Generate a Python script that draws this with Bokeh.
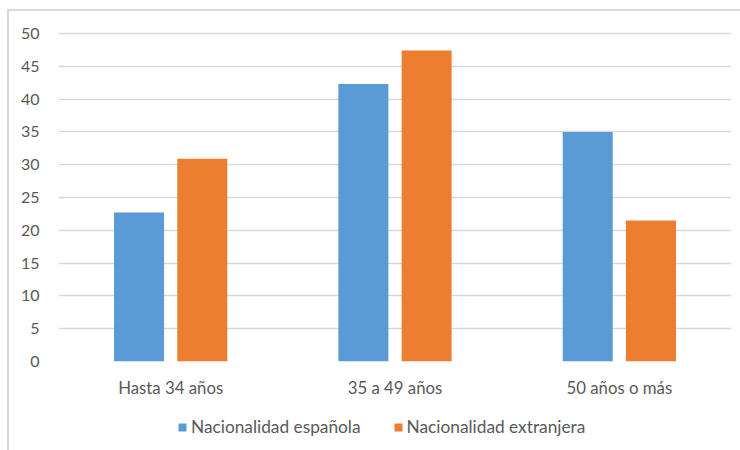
from bokeh.plotting import figure
from bokeh.layouts import column
from bokeh.models import Range1d, Legend, LegendItem, FixedTicker
from bokeh.transform import dodge
from bokeh.models import ColumnDataSource
from bokeh.embed import file_html
from bokeh.resources import INLINE

categories = ["Hasta 34 años", "35 a 49 años", "50 años o más"]
espanola = [22.7, 42.3, 35.0]
extranjera = [30.9, 47.4, 21.5]
series_names = ["Nacionalidad española", "Nacionalidad extranjera"]
y_ticks = [0, 5, 10, 15, 20, 25, 30, 35, 40, 45, 50]

BLUE = "#5B9BD5"
ORANGE = "#ED7D31"
TEXT = "#595959"
GRID = "#D9D9D9"
FONT = "Lato"

src = ColumnDataSource(dict(cat=categories, esp=espanola, ext=extranjera))

p = figure(x_range=categories, y_range=Range1d(0, 50.3), width=731, height=394,
           output_backend="svg", toolbar_location=None,
           min_border_left=49, min_border_right=9, min_border_top=20, min_border_bottom=44)
p.outline_line_color = None

r1 = p.vbar(x=dodge("cat", -0.141, range=p.x_range), top="esp", width=0.223, source=src,
            fill_color=BLUE, line_color=None)
r2 = p.vbar(x=dodge("cat", 0.141, range=p.x_range), top="ext", width=0.223, source=src,
            fill_color=ORANGE, line_color=None)

p.xgrid.grid_line_color = None
p.ygrid.grid_line_color = GRID
p.ygrid.grid_line_width = 1.5
p.yaxis.ticker = FixedTicker(ticks=y_ticks)

for ax in (p.xaxis[0], p.yaxis[0]):
    ax.axis_line_color = None
    ax.major_tick_line_color = None
    ax.minor_tick_line_color = None
    ax.major_tick_out = 0
    ax.major_tick_in = 0
    ax.major_label_text_font = FONT
    ax.major_label_text_color = TEXT
p.yaxis.major_label_text_font_size = "16px"
p.xaxis.major_label_text_font_size = "16.8px"
p.yaxis.major_label_standoff = 19
p.xaxis.major_label_standoff = 15

# legend strip below the chart
leg_fig = figure(x_range=categories, y_range=Range1d(0, 50.3), width=731, height=45,
                 output_backend="svg", toolbar_location=None,
                 x_axis_location=None, y_axis_location=None,
                 min_border_left=0, min_border_right=0, min_border_top=0, min_border_bottom=0)
leg_fig.outline_line_color = None
leg_fig.grid.grid_line_color = None
lr1 = leg_fig.vbar(x="cat", top="esp", width=0.223, source=src,
                   fill_color=BLUE, line_color=None, visible=False)
lr2 = leg_fig.vbar(x="cat", top="ext", width=0.223, source=src,
                   fill_color=ORANGE, line_color=None, visible=False)

legend = Legend(items=[LegendItem(label=series_names[0], renderers=[lr1]),
                       LegendItem(label=series_names[1], renderers=[lr2])],
                orientation="horizontal", location=(119, 13),
                glyph_width=10, glyph_height=10, label_standoff=4, spacing=32,
                label_text_font=FONT, label_text_font_size="17.3px", label_text_color=TEXT,
                border_line_color=None, background_fill_alpha=0, padding=0, margin=0)
leg_fig.add_layout(legend)

layout = column(p, leg_fig, spacing=0)
layout.margin = (9, 0, 0, 7)
layout.styles = {"border-top": "2px solid #D9D9D9", "border-left": "2px solid #D9D9D9"}

open("out.html", "w").write(file_html(layout, INLINE))
